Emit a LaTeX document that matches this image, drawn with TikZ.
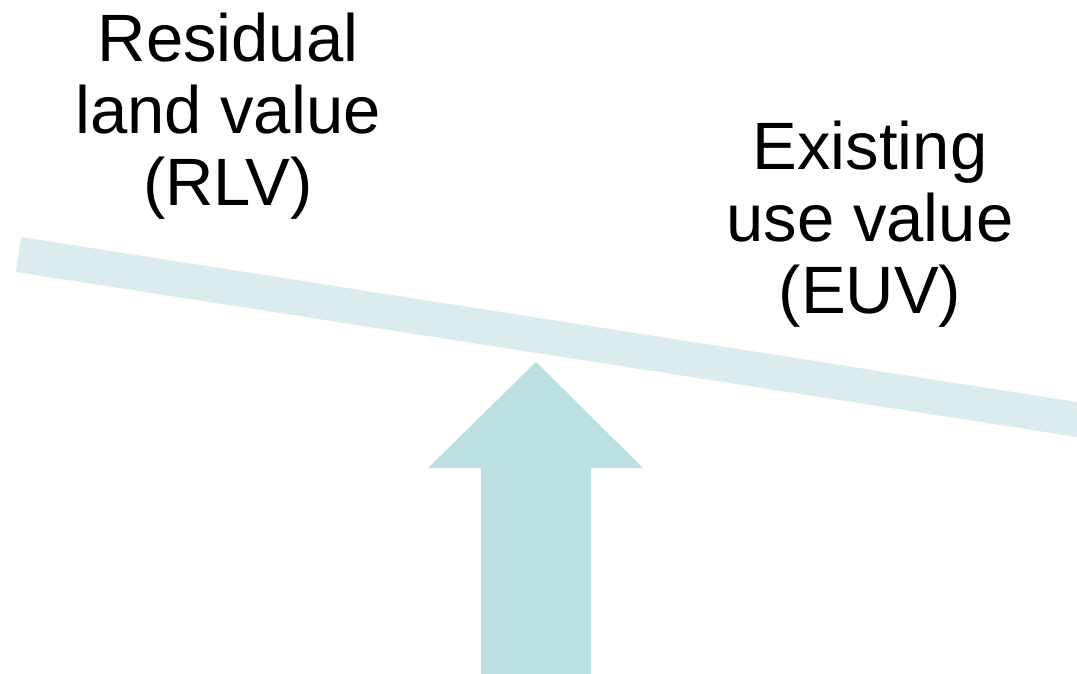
\documentclass[tikz,border=0pt]{standalone}
\usepackage{fontspec}
\setmainfont{Liberation Sans}
\definecolor{barcol}{HTML}{DAECEE}
\definecolor{arrowcol}{HTML}{BBDFE2}
\begin{document}
\begin{tikzpicture}[x=1pt,y=-1pt,
  label/.style={anchor=north,inner sep=0pt,align=center,font=\fontsize{67}{72}\selectfont}]
\useasboundingbox (0,0) rectangle (1077,674);
% tilted beam
\fill[barcol] (21,237) -- (1077,402) -- (1077,437) -- (16,272) -- cycle;
% upward arrow
\fill[arrowcol] (536,362) -- (643,468) -- (591,468) -- (591,674) -- (481,674) -- (481,468) -- (428,468) -- cycle;
% labels
\node[label] (rlv) at (228,13) {Residual\\land value\\(RLV)};
\node[label] (euv) at (870,121) {Existing\\use value\\(EUV)};
\end{tikzpicture}
\end{document}
